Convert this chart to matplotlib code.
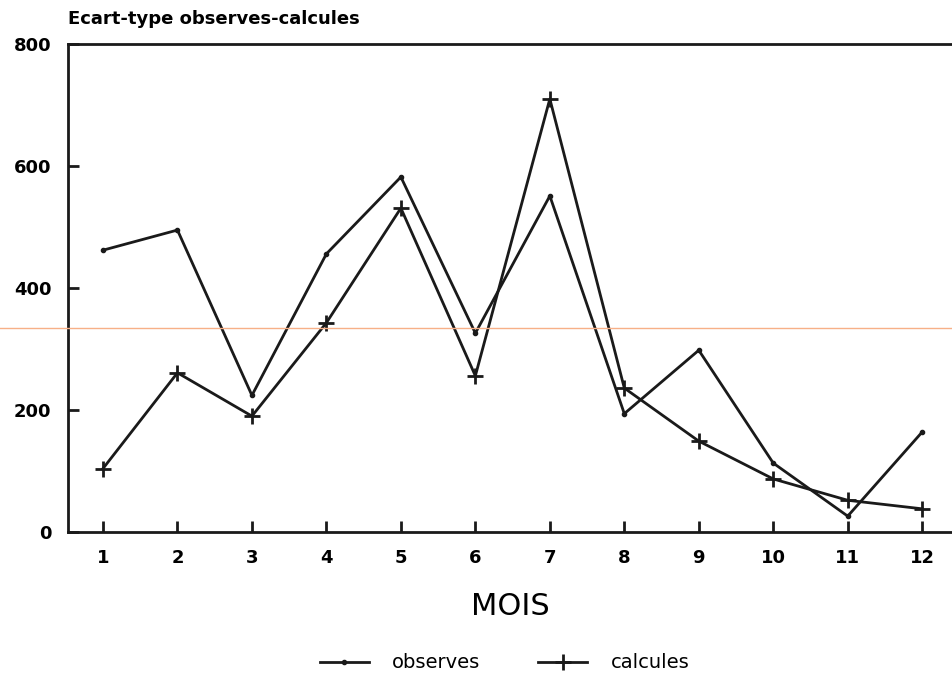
import matplotlib.pyplot as plt
from matplotlib.lines import Line2D

mois = [1, 2, 3, 4, 5, 6, 7, 8, 9, 10, 11, 12]
observes = [462, 495, 224, 456, 582, 326, 551, 194, 298, 113, 26, 164]
calcules = [104, 261, 190, 343, 531, 256, 710, 236, 149, 87, 52, 38]
y_ticks = [0, 200, 400, 600, 800]

plt.rcParams['font.family'] = ['DejaVu Sans']

fig = plt.figure(figsize=(9.52, 6.73), dpi=100)
ax = fig.add_axes([0.0714, 0.2095, 0.9286, 0.7251])

ax.plot(mois, observes, color='#1a1a1a', lw=2, marker='o', ms=3, label='observes')
ax.plot(mois, calcules, color='#1a1a1a', lw=2, marker='+', ms=12, mew=2, label='calcules')

ax.set_xlim(0.53, 12.4)
ax.set_ylim(0, 800)
ax.set_xticks(mois)
ax.set_yticks(y_ticks)
ax.tick_params(direction='in', length=8, width=2, color='#1a1a1a', labelsize=13, pad=12)
for lab in ax.get_xticklabels() + ax.get_yticklabels():
    lab.set_fontweight('bold')
ax.spines['right'].set_visible(False)
for s in ['left', 'top', 'bottom']:
    ax.spines[s].set_linewidth(2)
    ax.spines[s].set_color('#1a1a1a')

ax.set_xlabel('MOIS', fontsize=22, labelpad=18)
fig.text(0.0714, 0.972, 'Ecart-type observes-calcules', fontsize=13, fontweight='bold',
         ha='left', va='center')

fig.legend(loc='lower center', bbox_to_anchor=(0.53, -0.025), ncol=2, frameon=False,
           fontsize=14, handlelength=2.5, handletextpad=1.2, columnspacing=3)

# faint orange scan line across the page
fig.add_artist(Line2D([0, 1], [1 - 328 / 673, 1 - 328 / 673], transform=fig.transFigure,
                      color='#f7b088', lw=1))

fig.savefig('out.png', dpi=100)
